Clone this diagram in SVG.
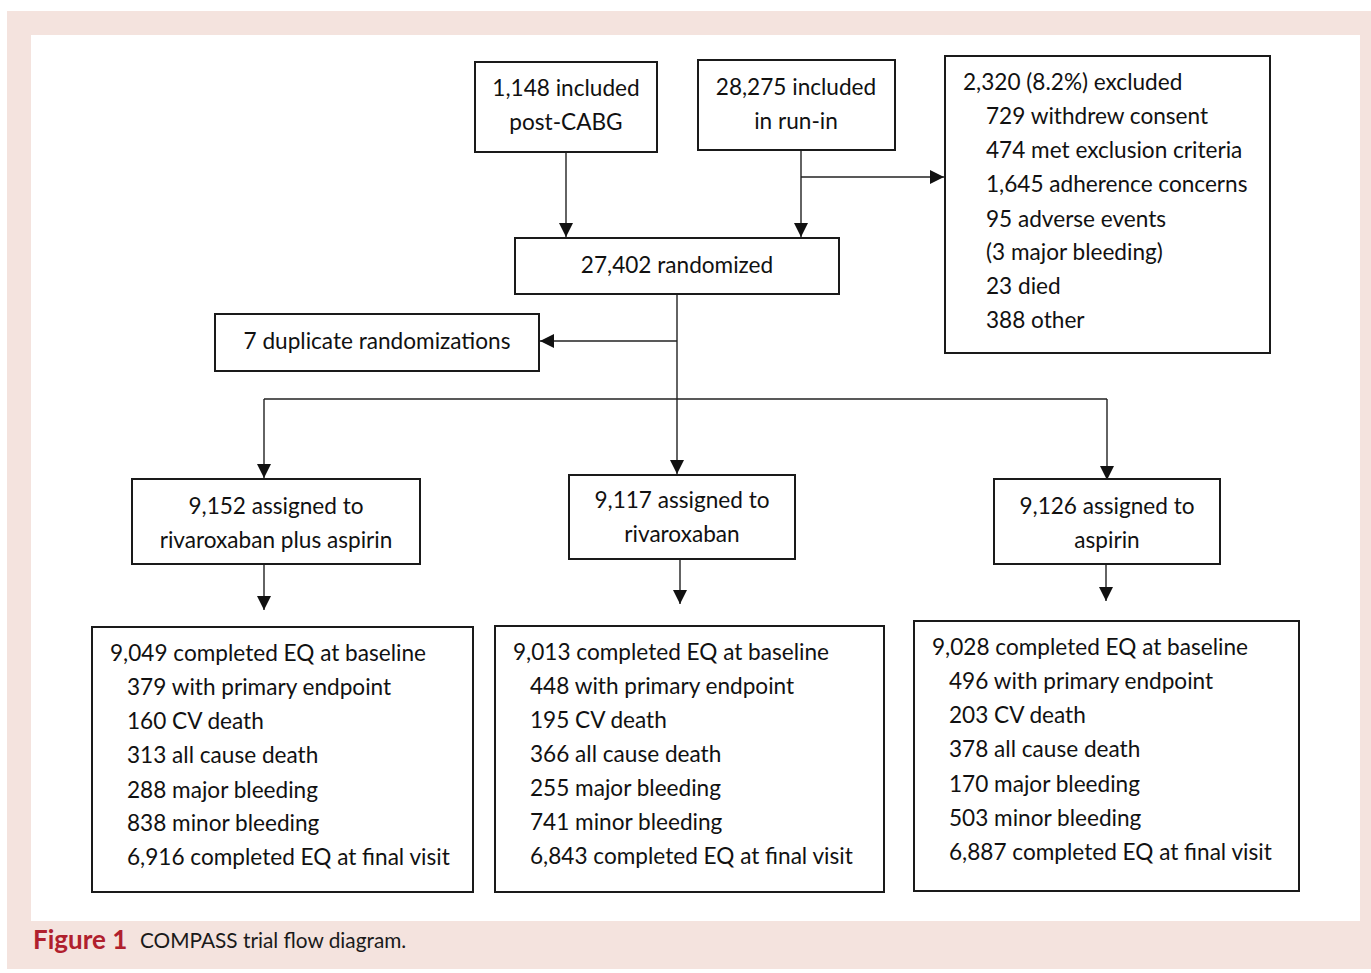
<svg xmlns="http://www.w3.org/2000/svg" width="1371" height="973" viewBox="0 0 1371 973">
<defs>
<marker id="ah" viewBox="0 0 10 10" refX="10" refY="5" markerWidth="14" markerHeight="14" markerUnits="userSpaceOnUse" orient="auto">
<path d="M0,0 L10,5 L0,10 Z" fill="#111"/>
</marker>
</defs>
<style>
.box{fill:#fff;stroke:#1a1a1a;stroke-width:2}
.t{font-family:Lato,"Open Sans",sans-serif;font-size:22.6px;fill:#111}
.c{text-anchor:middle}
.ln{stroke:#222;stroke-width:1.4;fill:none}
.ar{stroke:#222;stroke-width:1.4;fill:none;marker-end:url(#ah)}
</style>
<rect x="7" y="11" width="1364" height="958" fill="#f4e3de"/>
<rect x="31" y="35" width="1329" height="886" fill="#fff"/>

<g id="connectors">
<path class="ar" d="M566,152 V237"/>
<path class="ar" d="M801,150 V237"/>
<path class="ar" d="M801,177 H944"/>
<path class="ar" d="M677,294 V474"/>
<path class="ar" d="M677,341 H540"/>
<path class="ln" d="M264,399 H1107"/>
<path class="ar" d="M264,399 V478"/>
<path class="ar" d="M1107,399 V480"/>
<path class="ar" d="M264,564 V610"/>
<path class="ar" d="M680,559 V604"/>
<path class="ar" d="M1106,564 V601"/>
</g>

<g id="post-cabg">
<rect class="box" x="475" y="62" width="182" height="90"/>
<text class="t c" x="566" y="96">1,148 included</text>
<text class="t c" x="566" y="130">post-CABG</text>
</g>
<g id="run-in">
<rect class="box" x="698" y="60" width="197" height="90"/>
<text class="t c" x="796" y="95">28,275 included</text>
<text class="t c" x="796" y="129">in run-in</text>
</g>
<g id="excluded">
<rect class="box" x="945" y="56" width="325" height="297"/>
<text class="t" x="963" y="90">2,320 (8.2%) excluded</text>
<text class="t" x="986" y="124">729 withdrew consent</text>
<text class="t" x="986" y="158">474 met exclusion criteria</text>
<text class="t" x="986" y="192">1,645 adherence concerns</text>
<text class="t" x="986" y="227">95 adverse events</text>
<text class="t" x="986" y="260">(3 major bleeding)</text>
<text class="t" x="986" y="294">23 died</text>
<text class="t" x="986" y="328">388 other</text>
</g>
<g id="randomized">
<rect class="box" x="515" y="238" width="324" height="56"/>
<text class="t c" x="677" y="273">27,402 randomized</text>
</g>
<g id="duplicate">
<rect class="box" x="215" y="314" width="324" height="57"/>
<text class="t c" x="377" y="349">7 duplicate randomizations</text>
</g>
<g id="arm-riva-asa">
<rect class="box" x="132" y="479" width="288" height="85"/>
<text class="t c" x="276" y="514">9,152 assigned to</text>
<text class="t c" x="276" y="548">rivaroxaban plus aspirin</text>
</g>
<g id="arm-riva">
<rect class="box" x="569" y="475" width="226" height="84"/>
<text class="t c" x="682" y="508">9,117 assigned to</text>
<text class="t c" x="682" y="542">rivaroxaban</text>
</g>
<g id="arm-asa">
<rect class="box" x="994" y="479" width="226" height="85"/>
<text class="t c" x="1107" y="514">9,126 assigned to</text>
<text class="t c" x="1107" y="548">aspirin</text>
</g>
<g id="outcome-riva-asa">
<rect class="box" x="92" y="627" width="381" height="265"/>
<text class="t" x="110" y="661">9,049 completed EQ at baseline</text>
<text class="t" x="127" y="695">379 with primary endpoint</text>
<text class="t" x="127" y="729">160 CV death</text>
<text class="t" x="127" y="763">313 all cause death</text>
<text class="t" x="127" y="798">288 major bleeding</text>
<text class="t" x="127" y="831">838 minor bleeding</text>
<text class="t" x="127" y="865">6,916 completed EQ at final visit</text>
</g>
<g id="outcome-riva">
<rect class="box" x="495" y="626" width="389" height="266"/>
<text class="t" x="513" y="660">9,013 completed EQ at baseline</text>
<text class="t" x="530" y="694">448 with primary endpoint</text>
<text class="t" x="530" y="728">195 CV death</text>
<text class="t" x="530" y="762">366 all cause death</text>
<text class="t" x="530" y="796">255 major bleeding</text>
<text class="t" x="530" y="830">741 minor bleeding</text>
<text class="t" x="530" y="864">6,843 completed EQ at final visit</text>
</g>
<g id="outcome-asa">
<rect class="box" x="914" y="621" width="385" height="270"/>
<text class="t" x="932" y="655">9,028 completed EQ at baseline</text>
<text class="t" x="949" y="689">496 with primary endpoint</text>
<text class="t" x="949" y="723">203 CV death</text>
<text class="t" x="949" y="757">378 all cause death</text>
<text class="t" x="949" y="792">170 major bleeding</text>
<text class="t" x="949" y="826">503 minor bleeding</text>
<text class="t" x="949" y="860">6,887 completed EQ at final visit</text>
</g>
<g id="caption">
<text x="33" y="949" style="font-family:Lato,sans-serif;font-size:26px;font-weight:bold;fill:#b0202d">Figure 1</text>
<text x="140" y="948" style="font-family:Lato,sans-serif;font-size:20.8px;fill:#1a1a1a">COMPASS trial flow diagram.</text>
</g>
</svg>
